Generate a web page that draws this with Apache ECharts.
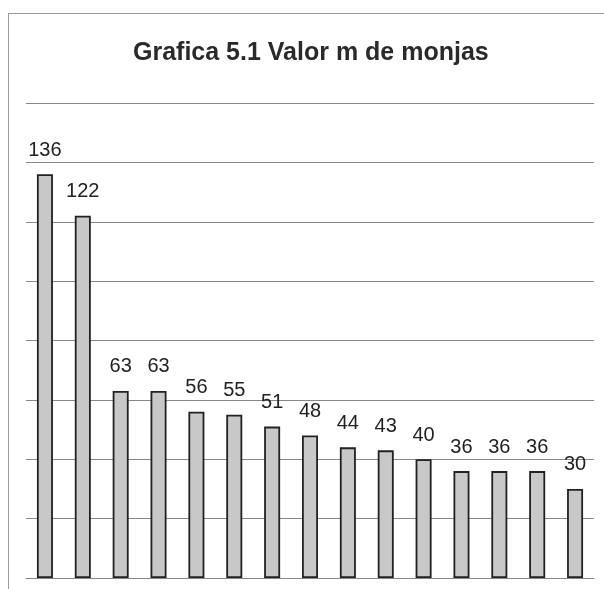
<!DOCTYPE html>
<html>
<head>
<meta charset="utf-8">
<script src="https://cdn.jsdelivr.net/npm/echarts@6/dist/echarts.min.js"></script>
<style>
  html, body { margin: 0; padding: 0; background: #fff; }
  #chart { width: 604px; height: 589px; }
  .frame {
    position: absolute; left: 8px; top: 13px; width: 596px; height: 576px;
    border-left: 1px solid #999; border-top: 1px solid #999; pointer-events: none;
  }
</style>
</head>
<body>
<div id="chart"></div>
<div class="frame"></div>
<script>
const categories = ['1', '2', '3', '4', '5', '6', '7', '8', '9', '10', '11', '12', '13', '14', '15']
const values = [136, 122, 63, 63, 56, 55, 51, 48, 44, 43, 40, 36, 36, 36, 30]

const chart = echarts.init(document.getElementById('chart'))

chart.setOption({
  animation: false,
  title: {
    text: 'Grafica 5.1 Valor m de monjas',
    left: 128,
    top: 36,
    textStyle: { fontFamily: 'Liberation Sans', fontSize: 25, fontWeight: 'bold', color: '#2a2a2a' }
  },
  grid: { left: 26, right: 10, top: 103, bottom: 11 },
  xAxis: {
    type: 'category',
    data: categories,
    axisLine: { lineStyle: { color: '#888', width: 1 } },
    axisTick: { show: false },
    axisLabel: { show: false }
  },
  yAxis: {
    type: 'value',
    min: 0,
    max: 160,
    interval: 20,
    axisLine: { show: false },
    axisTick: { show: false },
    axisLabel: { show: false },
    splitLine: { lineStyle: { color: '#888', width: 1 } }
  },
  series: [{
    type: 'bar',
    data: values,
    barWidth: 16,
    itemStyle: { color: '#c8c8c8', borderColor: '#222', borderWidth: 1.8 },
    label: {
      show: true,
      position: 'top',
      distance: 14,
      fontFamily: 'Liberation Sans',
      fontSize: 20,
      color: '#222'
    }
  }]
})
</script>
</body>
</html>
